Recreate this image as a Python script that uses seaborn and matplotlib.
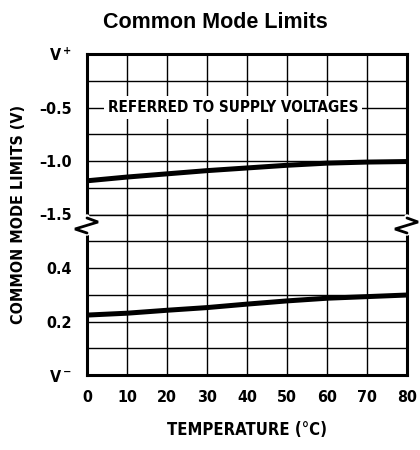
import matplotlib
matplotlib.use("Agg")
import matplotlib.pyplot as plt
import seaborn as sns
import pandas as pd

# temperature (degC) and common mode limits
temperature = [0, 10, 20, 30, 40, 50, 60, 70, 80]
# upper limit, referred to V+ (volts)
limite_superior = [-1.185, -1.15, -1.12, -1.09, -1.065, -1.04, -1.02, -1.01, -1.005]
# lower limit, referred to V- (volts)
limite_inferior = [0.224, 0.231, 0.242, 0.252, 0.265, 0.277, 0.287, 0.293, 0.299]

rotulos_sup = ["V$^+$", "\u20130.5", "\u20131.0", "\u20131.5"]
rotulos_inf = ["V$^-$", "0.2", "0.4"]

df = pd.DataFrame({"temp": temperature, "sup": limite_superior, "inf": limite_inferior})

sns.set_style("white")
plt.rcParams["font.family"] = ["DejaVu Sans"]
plt.rcParams["font.stretch"] = "condensed"
plt.rcParams["font.weight"] = "bold"
plt.rcParams["mathtext.default"] = "bf"
for k in ("text.color", "axes.labelcolor", "xtick.color", "ytick.color"):
    plt.rcParams[k] = "black"

fig = plt.figure(figsize=(4.2, 4.5), dpi=100)
esq, dir_, topo, base = 87 / 420, 407 / 420, 1 - 54 / 450, 1 - 375 / 450
meio = (topo + base) / 2
ax1 = fig.add_axes([esq, meio, dir_ - esq, topo - meio])
ax2 = fig.add_axes([esq, base, dir_ - esq, meio - base], sharex=ax1)

for ax in (ax1, ax2):
    ax.grid(True, color="black", linewidth=1.0)
    ax.set_axisbelow(True)
    for s in ax.spines.values():
        s.set_linewidth(2.2)
        s.set_color("black")
    ax.tick_params(length=0, labelsize=11.5)
    ax.tick_params(axis="y", pad=11)

sns.lineplot(data=df, x="temp", y="sup", ax=ax1, color="black", linewidth=3.6, zorder=5)
sns.lineplot(data=df, x="temp", y="inf", ax=ax2, color="black", linewidth=3.6, zorder=5)

ax1.set_ylim(-1.5, 0)
ax1.set_yticks([0, -0.25, -0.5, -0.75, -1.0, -1.25, -1.5])
ax1.set_yticklabels([rotulos_sup[0], "", rotulos_sup[1], "", rotulos_sup[2], "", rotulos_sup[3]])
ax1.spines["bottom"].set_visible(False)
ax1.tick_params(labelbottom=False)

ax2.set_ylim(0, 0.6)
ax2.set_yticks([0, 0.1, 0.2, 0.3, 0.4, 0.5])
ax2.set_yticklabels([rotulos_inf[0], "", rotulos_inf[1], "", rotulos_inf[2], ""])
ax2.spines["top"].set_visible(False)
ax2.axhline(0.6, color="black", linewidth=1.0, clip_on=False)
ax2.set_xlim(0, 80)
ax2.set_xticks(temperature)
ax2.set_xticklabels([str(t) for t in temperature])
ax2.tick_params(axis="x", pad=11)

ax1.set_ylabel("")
ax1.set_xlabel("")
ax2.set_ylabel("")
ax2.set_xlabel("TEMPERATURE (\u00b0C)", fontsize=12, fontweight="bold")
ax2.xaxis.set_label_coords(0.5, -0.343)
ax2.xaxis.label.set_va("center")

ax1.text(36.5, -0.5, "REFERRED TO SUPPLY VOLTAGES", ha="center", va="center",
         fontsize=11, fontweight="bold", zorder=6,
         bbox=dict(facecolor="white", edgecolor="none", pad=3))

fig.text(0.043, meio, "COMMON MODE LIMITS (V)", rotation=90, ha="center", va="center",
         fontsize=11.5, fontweight="bold")
fig.text(0.512, 1 - 22 / 450, "Common Mode Limits", ha="center", va="center",
         fontsize=15.5, fontweight="bold", fontstretch="normal",
         family=["Liberation Sans", "DejaVu Sans"])

# break marks on both side spines
W = 420
H = 450
yq = 228
for xs in (87, 407):
    fig.add_artist(plt.Line2D([xs / W, xs / W], [1 - 217 / H, 1 - 233 / H],
                              transform=fig.transFigure, color="white", linewidth=4))
    px = [xs, xs + 11, xs - 12, xs]
    py = [yq - 10, yq - 6, yq + 1, yq + 5]
    fig.add_artist(plt.Line2D([p / W for p in px], [1 - p / H for p in py],
                              transform=fig.transFigure, color="black", linewidth=2,
                              solid_joinstyle="miter"))

fig.savefig("out.png", dpi=100)
